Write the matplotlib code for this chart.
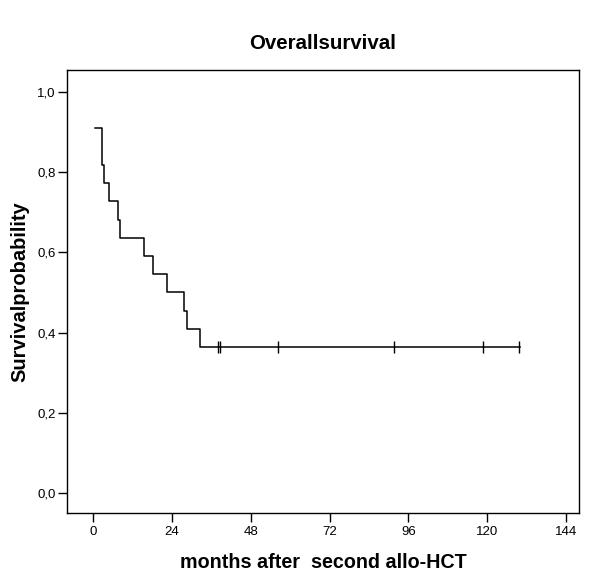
import numpy as np
import matplotlib.pyplot as plt

plt.rcParams['font.family'] = ['Liberation Sans', 'DejaVu Sans']

# Kaplan-Meier: event times (months) and survival after each step
t_start = 0.6
s_start = 0.909
event_times = [2.8, 3.45, 4.9, 7.5, 8.3, 15.6, 18.4, 22.4, 27.8, 28.6, 32.5]
surv_after = [0.818, 0.773, 0.727, 0.682, 0.636, 0.591, 0.545, 0.500, 0.455, 0.409, 0.364]
censor_times = [37.9, 38.7, 56.2, 91.6, 118.6, 129.7]
t_end = 129.9

xticks = [0, 24, 48, 72, 96, 120, 144]
yticks = [0.0, 0.2, 0.4, 0.6, 0.8, 1.0]
ytick_labels = ['0,0', '0,2', '0,4', '0,6', '0,8', '1,0']

fig = plt.figure(figsize=(6, 5.84), dpi=100)
ax = fig.add_axes([0.1117, 0.1216, 0.8533, 0.7586])

x = [t_start] + event_times + [t_end]
y = [s_start] + surv_after + [surv_after[-1]]
ax.step(x, y, where='post', color='black', lw=1.1)
ax.plot(censor_times, [surv_after[-1]] * len(censor_times), ls='none',
        marker='|', ms=8, mew=1.0, color='black')

ax.set_xlim(-7.9, 147.9)
ax.set_ylim(-0.05, 1.055)
ax.set_xticks(xticks)
ax.set_yticks(yticks)
ax.set_yticklabels(ytick_labels)
ax.tick_params(direction='out', length=6.5, width=1, labelsize=9.5)
ax.tick_params(axis='x', pad=3)
ax.tick_params(axis='y', pad=1.5)
for sp in ax.spines.values():
    sp.set_linewidth(1)

ax.set_title('Overallsurvival', fontsize=14.8, fontweight='bold', pad=15)
ax.set_xlabel('months after  second allo-HCT', fontsize=14.2, fontweight='bold', labelpad=11)
ax.set_ylabel('Survivalprobability', fontsize=14.5, fontweight='bold', labelpad=6)

fig.savefig('out.png', dpi=100)
